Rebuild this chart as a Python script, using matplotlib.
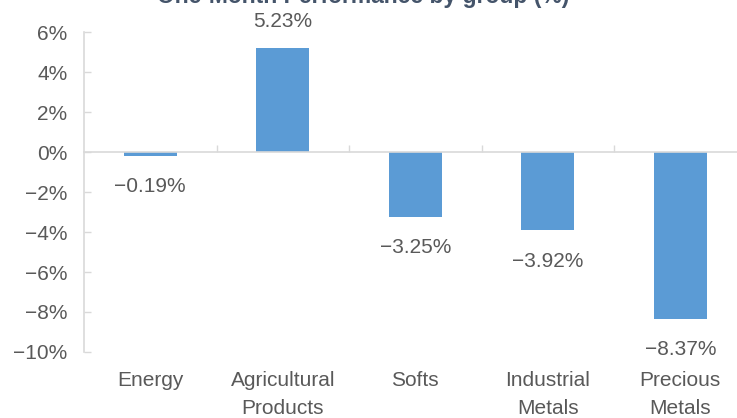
import numpy as np
import matplotlib
matplotlib.use("Agg")
import matplotlib.pyplot as plt

# Chart data
categories = ["Energy", "Agricultural\nProducts", "Softs", "Industrial\nMetals", "Precious\nMetals"]
performance = [-0.19, 5.23, -3.25, -3.92, -8.37]
y_ticks = [6, 4, 2, 0, -2, -4, -6, -8, -10]

bar_color = "#5B9BD5"
text_color = "#595959"
line_color = "#D9D9D9"

plt.rcParams["font.family"] = ["Liberation Sans", "DejaVu Sans"]

fig = plt.figure(figsize=(7.37, 4.18), dpi=100)
ax = fig.add_axes([0.114, 0.158, 0.899, 0.765])

x = np.arange(len(categories))
ax.bar(x, performance, width=0.4, color=bar_color, zorder=2)

ax.set_xlim(-0.5, len(categories) - 0.5)
ax.set_ylim(-10, 6)

# y axis
ax.set_yticks(y_ticks)
ax.set_yticklabels([f"{v}%".replace("-", "\u2212") for v in y_ticks])
ax.tick_params(axis="y", direction="in", length=5, width=1, color=line_color,
               labelsize=15, labelcolor=text_color, pad=12)

# x axis sits at zero, labels at the bottom
ax.spines["bottom"].set_position(("data", 0))
ax.set_xticks(x[:-1] + 0.5)
ax.set_xticklabels([])
ax.tick_params(axis="x", direction="in", length=5, width=1, color=line_color)

for side in ["top", "right"]:
    ax.spines[side].set_visible(False)
for side in ["left", "bottom"]:
    ax.spines[side].set_color(line_color)
    ax.spines[side].set_linewidth(1.2)

for xi, name in zip(x, categories):
    ax.annotate(name, xy=(xi, 0), xycoords=("data", "axes fraction"),
                xytext=(0, -13.5), textcoords="offset points",
                ha="center", va="top", fontsize=15, color=text_color,
                linespacing=1.64)

# data labels
for xi, v in zip(x, performance):
    off = 14.5 if v > 0 else -26
    ax.annotate(f"{v:.2f}%".replace("-", "\u2212"), xy=(xi, v),
                xytext=(0, off), textcoords="offset points",
                ha="center", va="baseline", fontsize=15, color=text_color)

fig.text(0.4925, 1 - 3 / 418, "One-Month Performance by group (%)",
         ha="center", va="baseline", fontsize=16.5, fontweight="bold",
         color="#44546A")

fig.savefig("out.png", dpi=100)
